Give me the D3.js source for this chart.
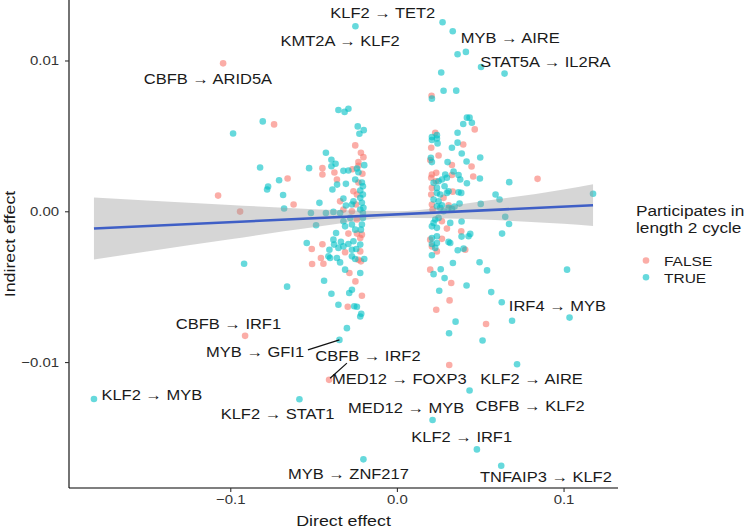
<!DOCTYPE html>
<html>
<head>
<meta charset="utf-8">
<script src="https://cdn.jsdelivr.net/npm/d3@7"></script>
<style>
  body { margin: 0; background: #fff; }
  text { font-family: "Liberation Sans", Arial, sans-serif; fill: #1a1a1a; }
</style>
</head>
<body>
<svg id="chart" width="750" height="529"></svg>
<script>
(function() {

  // points where the edge does NOT take part in a length 2 cycle
  var falseDirect = [
    -0.1043, -0.1073, -0.0941, -0.0737, -0.0656, -0.0620, -0.0911, -0.0250, -0.0216, -0.0201,
    -0.0231, -0.0231, -0.0447, -0.0447, -0.0375, -0.0267, -0.0207, -0.0360, -0.0231, -0.0261,
    -0.0240, -0.0341, -0.0246, -0.0321, -0.0270, -0.0240, -0.0210, -0.0220, -0.0240, -0.0291,
    -0.0511, -0.0447, -0.0311, -0.0220, -0.0456, -0.0231, -0.0216, -0.0509, -0.0441, -0.0285,
    -0.0249, -0.0210, -0.0295, -0.0407,
    0.0208, 0.0467, 0.0230, 0.0206, 0.0398, 0.0250, 0.0200, 0.0448, 0.0330, 0.0330,
    0.0210, 0.0236, 0.0458, 0.0206, 0.0234, 0.0210, 0.0335, 0.0206, 0.0280, 0.0310,
    0.0210, 0.0214, 0.0844, 0.0270, 0.0300, 0.0386, 0.0200, 0.0270, 0.0210, 0.0240,
    0.0410, 0.0200, 0.0326, 0.0316, 0.0236, 0.0535, 0.0314
  ];
  var falseIndirect = [
    0.00981, 0.00104, -0.00002, 0.00576, 0.00217, 0.00045, -0.00826, 0.00437, 0.00388, 0.00359,
    0.00326, 0.00302, 0.00286, 0.00244, 0.00257, 0.00279, 0.00249, 0.00211, 0.00191, 0.00133,
    0.00111, 0.00066, 0.00045, 0.00011, 0.00000, -0.00055, -0.00155, -0.00177, -0.00148, -0.00148,
    -0.00250, -0.00219, -0.00272, -0.00266, -0.00310, -0.00321, -0.00332, -0.00350, -0.00348, -0.00409,
    -0.00465, -0.00560, -0.00633, -0.01118,
    0.00766, 0.00543, 0.00521, 0.00421, 0.00443, 0.00370, 0.00340, 0.00297, 0.00307, 0.00241,
    0.00244, 0.00255, 0.00231, 0.00222, 0.00199, 0.00155, 0.00130, 0.00111, 0.00089, 0.00040,
    0.00045, 0.00011, 0.00215, -0.00066, -0.00115, -0.00133, -0.00188, -0.00183, -0.00233, -0.00266,
    -0.00255, -0.00387, -0.00476, -0.00591, -0.00653, -0.00748, -0.01019
  ];

  // points where the edge takes part in a length 2 cycle
  var trueDirect = [
    -0.1818, -0.0983, -0.0805, -0.0821, -0.0707, -0.0773, -0.0779, -0.0683, -0.0677, -0.0917,
    -0.0659, -0.0585, -0.0351, -0.0314, -0.0291, -0.0235, -0.0199, -0.0225, -0.0426, -0.0393,
    -0.0368, -0.0393, -0.0196, -0.0527, -0.0321, -0.0291, -0.0240, -0.0231, -0.0359, -0.0387,
    -0.0306, -0.0250, -0.0210, -0.0204, -0.0220, -0.0204, -0.0321, -0.0465, -0.0261, -0.0220,
    -0.0210, -0.0306, -0.0270, -0.0341, -0.0381, -0.0426, -0.0516, -0.0220, -0.0201, -0.0204,
    -0.0485, -0.0321, -0.0280, -0.0204, -0.0210, -0.0311, -0.0270, -0.0250, -0.0216, -0.0365,
    -0.0541, -0.0381, -0.0377, -0.0336, -0.0291, -0.0261, -0.0405, -0.0411, -0.0351, -0.0321,
    -0.0270, -0.0244, -0.0220, -0.0401, -0.0360, -0.0341, -0.0270, -0.0250, -0.0196, -0.0311,
    -0.0220, -0.0437, -0.0270, -0.0286, -0.0393, -0.0351, -0.0256, -0.0240, -0.0214, -0.0220,
    -0.0300, -0.0345, -0.0201, -0.0249,
    0.0274, 0.0335, 0.0364, 0.0414, 0.0505, 0.0266, 0.0646, 0.0280, 0.0356, 0.0210,
    0.0420, 0.0436, 0.0398, 0.0450, 0.0364, 0.0240, 0.0210, 0.0240, 0.0210, 0.0244,
    0.0364, 0.0330, 0.0389, 0.0204, 0.0500, 0.0418, 0.0210, 0.0304, 0.0340, 0.0370,
    0.0290, 0.0300, 0.0270, 0.0498, 0.0220, 0.0250, 0.0420, 0.0380, 0.0240, 0.0286,
    0.0310, 0.0370, 0.0240, 0.0260, 0.0220, 0.0250, 0.0300, 0.0386, 0.0346, 0.0503,
    0.0592, 0.0240, 0.0270, 0.0260, 0.0310, 0.0280, 0.0330, 0.0376, 0.0616, 0.0674,
    0.1177, 0.0230, 0.0250, 0.0220, 0.0210, 0.0240, 0.0320, 0.0388, 0.0388, 0.0430,
    0.0440, 0.0210, 0.0240, 0.0310, 0.0210, 0.0240, 0.0230, 0.0210, 0.0365, 0.0400,
    0.0320, 0.0336, 0.0496, 0.0541, 0.0263, 0.0220, 0.0286, 0.0418, 0.0254, 0.0566,
    0.0629, 0.0352, 0.0313, 0.0514, 0.0691, 0.1036, 0.1021, 0.0721, 0.0436, 0.0214,
    0.0480, 0.0626, 0.0650, 0.0673, 0.0631
  ];
  var trueIndirect = [
    -0.01245, 0.00516, 0.00596, 0.00290, 0.00206, 0.00164, 0.00144, 0.00108, 0.00018, -0.00348,
    -0.00500, -0.01247, 0.00672, 0.00659, 0.00680, 0.00563, 0.00538, 0.00514, 0.00388, 0.00342,
    0.00315, 0.00299, 0.00306, 0.00286, 0.00268, 0.00270, 0.00284, 0.00259, 0.00177, 0.00144,
    0.00182, 0.00211, 0.00191, 0.00166, 0.00138, 0.00111, 0.00084, 0.00056, 0.00066, 0.00089,
    0.00056, 0.00038, 0.00045, -0.00011, -0.00004, -0.00011, -0.00011, 0.00011, 0.00023, -0.00011,
    -0.00093, -0.00066, -0.00044, -0.00044, -0.00088, -0.00100, -0.00088, -0.00122, -0.00122, -0.00144,
    -0.00210, -0.00188, -0.00221, -0.00203, -0.00217, -0.00199, -0.00255, -0.00299, -0.00243, -0.00233,
    -0.00255, -0.00250, -0.00221, -0.00310, -0.00310, -0.00339, -0.00299, -0.00316, -0.00316, -0.00387,
    -0.00409, -0.00461, -0.00520, -0.00542, -0.00547, -0.00620, -0.00630, -0.00633, -0.00680, -0.00698,
    -0.00775, -0.00853, -0.01645, 0.01227,
    0.01254, 0.01194, 0.01041, 0.01057, 0.00957, 0.00920, 0.00913, 0.00799, 0.00800, 0.00747,
    0.00621, 0.00621, 0.00579, 0.00587, 0.00521, 0.00505, 0.00492, 0.00483, 0.00473, 0.00450,
    0.00455, 0.00421, 0.00383, 0.00355, 0.00357, 0.00330, 0.00326, 0.00326, 0.00264, 0.00241,
    0.00244, 0.00222, 0.00211, 0.00217, 0.00189, 0.00199, 0.00186, 0.00211, 0.00155, 0.00166,
    0.00133, 0.00126, 0.00122, 0.00111, 0.00078, 0.00066, 0.00122, 0.00122, 0.00031, 0.00049,
    0.00111, 0.00033, 0.00040, 0.00023, 0.00023, 0.00000, 0.00016, 0.00051, 0.00078, 0.00193,
    0.00116, -0.00055, -0.00044, -0.00077, -0.00100, -0.00110, -0.00077, -0.00068, -0.00168, -0.00166,
    -0.00150, -0.00177, -0.00166, -0.00203, -0.00217, -0.00210, -0.00243, -0.00292, -0.00258, -0.00248,
    -0.00210, -0.00343, -0.00338, -0.00392, -0.00384, -0.00417, -0.00443, -0.00492, -0.00527, -0.00536,
    -0.00603, -0.00732, -0.00809, -0.00857, -0.00726, -0.00705, -0.00387, -0.01014, -0.01189, -0.01384,
    -0.01579, -0.01688, -0.00037, -0.00084, -0.00148
  ];

  // linear fit and its confidence band
  var fitX = [-0.1818, 0.1177];
  var fitY = [-0.00114, 0.00040];
  var bandX  = [-0.1818, -0.15, -0.1, -0.05, 0, 0.05, 0.1, 0.1177];
  var bandLo = [-0.00319, -0.00267, -0.00186, -0.00106, -0.00043, -0.00055, -0.00083, -0.00098];
  var bandHi = [0.00091, 0.00071, 0.00042, 0.00014, 0.00001, 0.00065, 0.00145, 0.00180];

  // repelled labels (text baseline centre, in data units)
  var labelText = [
    'KLF2 \u2192 TET2', 'KMT2A \u2192 KLF2', 'MYB \u2192 AIRE', 'STAT5A \u2192 IL2RA',
    'CBFB \u2192 ARID5A', 'IRF4 \u2192 MYB', 'CBFB \u2192 IRF1', 'MYB \u2192 GFI1',
    'CBFB \u2192 IRF2', 'MED12 \u2192 FOXP3', 'KLF2 \u2192 AIRE', 'KLF2 \u2192 MYB',
    'KLF2 \u2192 STAT1', 'MED12 \u2192 MYB', 'CBFB \u2192 KLF2', 'KLF2 \u2192 IRF1',
    'MYB \u2192 ZNF217', 'TNFAIP3 \u2192 KLF2'
  ];
  var labelX = [-0.0085, -0.0341, 0.0680, 0.0891, -0.1134, 0.0963, -0.1011, -0.0851, -0.0174,
                0.0014, 0.0808, -0.1471, -0.0716, 0.0055, 0.0799, 0.0389, -0.0291, 0.0894];
  var labelY = [0.01281, 0.01096, 0.01119, 0.00957, 0.00847, -0.00660, -0.00781, -0.00964, -0.00990,
                -0.01145, -0.01145, -0.01251, -0.01380, -0.01336, -0.01322, -0.01532, -0.01776, -0.01798];

  // leader segments [x1, y1, x2, y2]
  var segments = [
    [-0.0534, -0.00919, -0.0345, -0.00853],
    [-0.0300, -0.01007, -0.0401, -0.01107]
  ];

  var xTicks = [-0.1, 0, 0.1];
  var yTicks = [-0.01, 0, 0.01];
  var legendKeys = ['FALSE', 'TRUE'];
  var colors = { FALSE: '#F8766D', TRUE: '#00BFC4' };

  var SX = 1.15; // the source font is wider than Liberation Sans
  var svg = d3.select('#chart');

  function expand(ext) {
    var pad = (ext[1] - ext[0]) * 0.05;
    return [ext[0] - pad, ext[1] + pad];
  }

  var x = d3.scaleLinear()
    .domain(expand(d3.extent(falseDirect.concat(trueDirect))))
    .range([69, 618]);
  var y = d3.scaleLinear()
    .domain(expand(d3.extent(falseIndirect.concat(trueIndirect))))
    .range([488, 0]);

  function addText(g, px, py, str, size, anchor, rot, sx) {
    return g.append('text')
      .attr('transform', 'translate(' + px + ',' + py + ')' +
            (rot ? ' rotate(' + rot + ')' : '') + ' scale(' + (sx || SX) + ',1)')
      .attr('text-anchor', anchor || 'start')
      .style('font-size', size + 'px')
      .text(str);
  }

  var points = [];
  falseDirect.forEach(function(d, i) { points.push({ x: d, y: falseIndirect[i], c: 'FALSE' }); });
  trueDirect.forEach(function(d, i) { points.push({ x: d, y: trueIndirect[i], c: 'TRUE' }); });

  svg.append('g').selectAll('circle')
    .data(points)
    .enter().append('circle')
    .attr('cx', function(d) { return x(d.x); })
    .attr('cy', function(d) { return y(d.y); })
    .attr('r', 3.3)
    .attr('fill', function(d) { return colors[d.c]; })
    .attr('fill-opacity', 0.6);

  // smooth
  var band = bandX.map(function(d, i) { return [d, bandLo[i], bandHi[i]]; });
  svg.append('path')
    .datum(band)
    .attr('fill', '#999999')
    .attr('fill-opacity', 0.4)
    .attr('d', d3.area()
      .curve(d3.curveMonotoneX)
      .x(function(d) { return x(d[0]); })
      .y0(function(d) { return y(d[1]); })
      .y1(function(d) { return y(d[2]); }));

  svg.append('path')
    .datum(fitX.map(function(d, i) { return [d, fitY[i]]; }))
    .attr('fill', 'none')
    .attr('stroke', '#3f5fc6')
    .attr('stroke-width', 2.6)
    .attr('d', d3.line()
      .x(function(d) { return x(d[0]); })
      .y(function(d) { return y(d[1]); }));

  // labels
  var lab = svg.append('g');
  svg.append('g').selectAll('line')
    .data(segments)
    .enter().append('line')
    .attr('x1', function(d) { return x(d[0]); })
    .attr('y1', function(d) { return y(d[1]); })
    .attr('x2', function(d) { return x(d[2]); })
    .attr('y2', function(d) { return y(d[3]); })
    .attr('stroke', '#111')
    .attr('stroke-width', 1.2);
  labelText.forEach(function(t, i) {
    addText(lab, x(labelX[i]), y(labelY[i]), t, 15, 'middle', 0, 1.1);
  });

  // axes
  var xAxis = svg.append('g')
    .attr('transform', 'translate(0,488)')
    .call(d3.axisBottom(x)
      .tickValues(xTicks)
      .tickSize(4)
      .tickSizeOuter(0)
      .tickPadding(3)
      .tickFormat(d3.format('.1f')));
  var yAxis = svg.append('g')
    .attr('transform', 'translate(69,0)')
    .call(d3.axisLeft(y)
      .tickValues(yTicks)
      .tickSize(4)
      .tickSizeOuter(0)
      .tickPadding(6)
      .tickFormat(d3.format('.2f')));

  [xAxis, yAxis].forEach(function(a) {
    a.select('.domain').attr('stroke', '#000').attr('stroke-width', 1.1);
    a.selectAll('.tick line').attr('stroke', '#333').attr('stroke-width', 1.1);
    a.selectAll('.tick text')
      .style('font-size', '13px')
      .style('font-family', '"Liberation Sans", Arial, sans-serif')
      .style('fill', '#333');
  });
  xAxis.selectAll('.tick text').attr('transform', 'scale(' + SX + ',1)');
  yAxis.selectAll('.tick text').attr('x', -10 / SX).attr('transform', 'scale(' + SX + ',1)');
  // the y domain line runs to the top edge of the panel
  yAxis.select('.domain').attr('d', 'M0,0V488');
  xAxis.select('.domain').attr('d', 'M69,0H618');

  addText(svg, 343.5, 526, 'Direct effect', 15.5, 'middle');
  addText(svg, 15, 244, 'Indirect effect', 15.5, 'middle', -90);

  // legend
  var leg = svg.append('g');
  addText(leg, 636, 216, 'Participates in', 15, 'start');
  addText(leg, 636, 233, 'length 2 cycle', 15, 'start');
  legendKeys.forEach(function(k, i) {
    var cy = 260.5 + i * 16.8;
    leg.append('circle')
      .attr('cx', 646).attr('cy', cy).attr('r', 3.3)
      .attr('fill', colors[k]).attr('fill-opacity', 0.6);
    addText(leg, 664, cy + 5.3, k, 13.5, 'start');
  });

})();
</script>
</body>
</html>
